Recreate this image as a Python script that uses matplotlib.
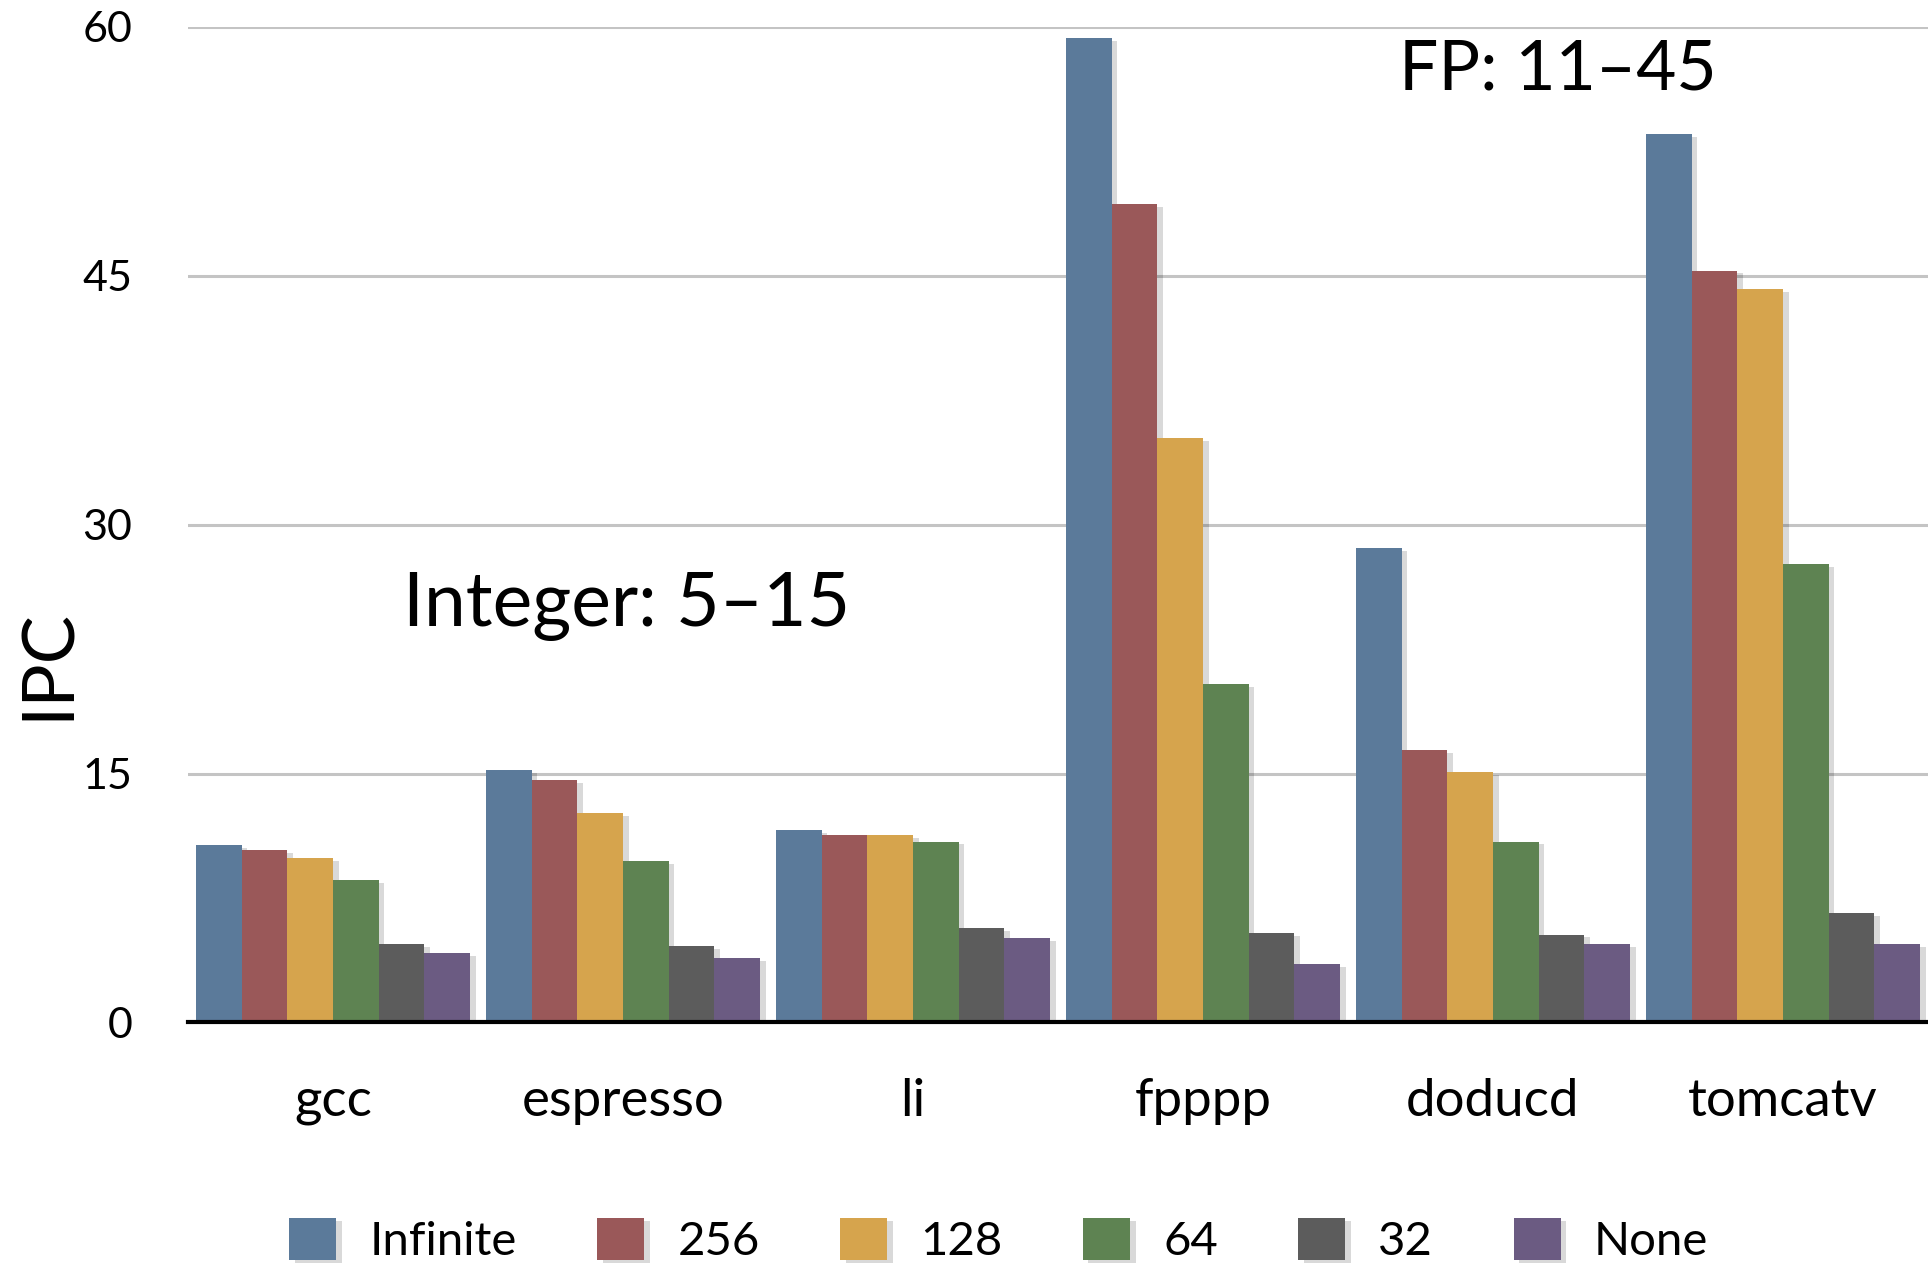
import numpy as np
import matplotlib
matplotlib.use("Agg")
import matplotlib.pyplot as plt
import matplotlib.patheffects as pe

# IPC per benchmark for each window size
benchmarks = ["gcc", "espresso", "li", "fpppp", "doducd", "tomcatv"]
window_sizes = ["Infinite", "256", "128", "64", "32", "None"]
ipc_infinite = [10.7, 15.2, 11.6, 59.3, 28.6, 53.5]
ipc_256 = [10.4, 14.6, 11.3, 49.3, 16.4, 45.3]
ipc_128 = [9.9, 12.6, 11.3, 35.2, 15.1, 44.2]
ipc_64 = [8.6, 9.7, 10.9, 20.4, 10.9, 27.6]
ipc_32 = [4.7, 4.6, 5.7, 5.4, 5.3, 6.6]
ipc_none = [4.2, 3.9, 5.1, 3.5, 4.7, 4.7]
series = [ipc_infinite, ipc_256, ipc_128, ipc_64, ipc_32, ipc_none]
colors = ["#5b7a9a", "#9a5859", "#d6a44d", "#5e8352", "#5c5c5c", "#6b5b82"]
yticks = [0, 15, 30, 45, 60]

plt.rcParams["font.family"] = ["Lato", "DejaVu Sans"]

fig = plt.figure(figsize=(19.28, 12.67), dpi=100)
ax = fig.add_axes([0.0975, 0.193, 0.9025, 0.786])

x = np.arange(len(benchmarks))
width = 0.1575
shadow = [pe.SimplePatchShadow(offset=(4, -2), shadow_rgbFace="#000000", alpha=0.15), pe.Normal()]
for i, (vals, col, name) in enumerate(zip(series, colors, window_sizes)):
    offs = (i - 2.5) * width
    bars = ax.bar(x + offs, vals, width, color=col, label=name, zorder=3, linewidth=0)
    for b in bars:
        b.set_path_effects(shadow)

ax.set_xlim(-0.5, 5.5)
ax.set_ylim(0, 60)
ax.set_yticks(yticks)
ax.set_yticklabels([str(t) for t in yticks], fontsize=31)
ax.set_xticks(x)
ax.set_xticklabels(benchmarks, fontsize=38)
ax.tick_params(axis="both", length=0)
ax.tick_params(axis="y", pad=40)
ax.tick_params(axis="x", pad=40)
ax.yaxis.grid(True, color="#c4c4c4", linewidth=2.2, zorder=0)
ax.set_axisbelow(True)
for s in ["top", "right", "left"]:
    ax.spines[s].set_visible(False)
ax.spines["bottom"].set_linewidth(3)
ax.spines["bottom"].set_zorder(4)

ax.text(0.24, 23.9, "Integer: 5–15", fontsize=54, va="baseline", ha="left")
ax.text(3.675, 56.2, "FP: 11–45", fontsize=50, va="baseline", ha="left")

fig.text(0.025, 0.476, "IPC", rotation=90, fontsize=52, va="center", ha="center")

fig.legend(loc="center", bbox_to_anchor=(0.518, 0.021), ncol=6, frameon=False,
           fontsize=34, handlelength=1.0, handleheight=1.0, handletextpad=0.7,
           columnspacing=1.7)

fig.savefig("out.png", dpi=100)
